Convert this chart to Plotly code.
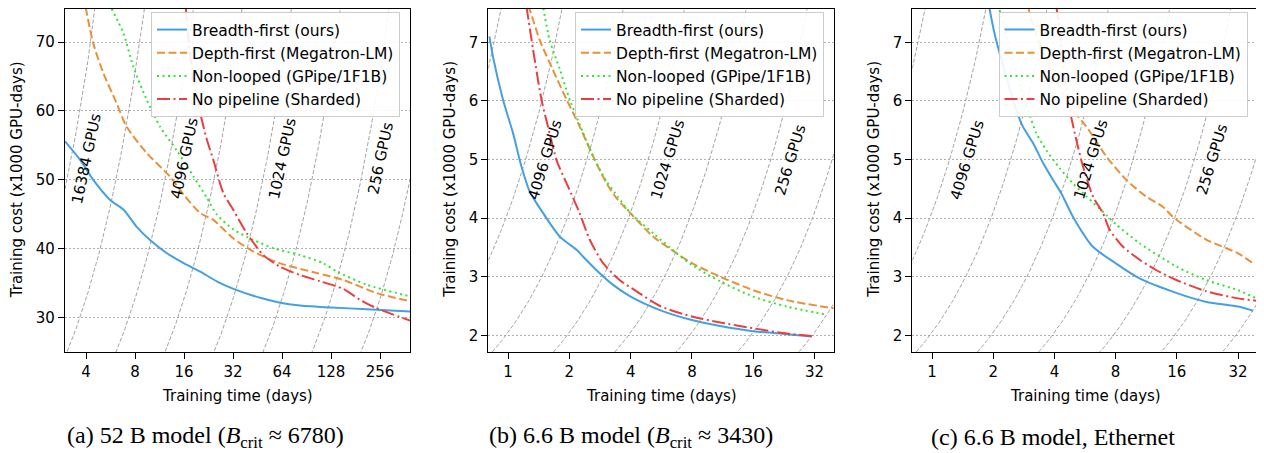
import numpy as np
import plotly.graph_objects as go

# The page adds an 8 px body margin, so the figure is drawn 8 px smaller and
# every reference pixel position is shifted by OFF.
OFF = 8
W, H = 1264 - OFF, 453 - OFF

# ---------------- data (training time in days, cost in x1000 GPU-days) ----------------
series_names = ["Breadth-first (ours)", "Depth-first (Megatron-LM)",
                "Non-looped (GPipe/1F1B)", "No pipeline (Sharded)"]

# (a) 52 B model
a_bf_t = [2.97, 3.68, 4.43, 5.62, 6.78, 8.19, 9.89, 12.5, 16, 20.1, 25.4, 32.2, 46.9, 62.2, 82.5, 128, 212, 391]
a_bf_c = [55.6, 52.9, 50.0, 47.1, 45.7, 43.2, 41.3, 39.4, 37.9, 36.7, 35.3, 34.2, 32.9, 32.2, 31.8, 31.5, 31.25, 30.9]
a_df_t = [3.98, 4.43, 5.11, 6.17, 7.11, 9.44, 13.1, 16, 20.1, 24.2, 32.2, 42.7, 62.2, 104.5, 152, 244, 391]
a_df_c = [75.0, 69.8, 65.5, 61.1, 57.7, 53.9, 50.5, 47.8, 45.2, 44.2, 41.5, 39.6, 37.9, 36.5, 35.5, 33.6, 32.4]
a_nl_t = [5.75, 6.78, 7.81, 9.44, 11.4, 14.4, 18.3, 22.1, 25.4, 32.2, 42.7, 56.6, 82.5, 115, 139, 212, 391]
a_nl_c = [74.8, 71.3, 66.4, 61.6, 57.7, 54.3, 50.5, 47.4, 45.0, 42.8, 41.3, 40.1, 39.1, 37.9, 36.7, 34.8, 33.1]
a_np_t = [16.4, 17.1, 18.3, 20.1, 22.0, 24.2, 27.9, 32.2, 38.8, 49.1, 62.2, 82.5, 109.6, 152, 193, 244, 391]
a_np_c = [75.0, 70.0, 64.5, 59.7, 56.0, 52.9, 48.1, 45.6, 42.3, 39.1, 37.4, 36.2, 35.3, 34.2, 32.6, 31.4, 29.6]

# (b) 6.6 B model
b_bf_t = [0.81, 0.844, 0.945, 1.058, 1.164, 1.279, 1.49, 1.80, 2.17, 2.34, 2.72, 3.28, 4.0, 5.57, 8.0, 11.0, 16.0, 23.4, 31.0]
b_bf_c = [7.10, 6.75, 6.02, 5.45, 4.88, 4.45, 4.08, 3.68, 3.46, 3.34, 3.11, 2.86, 2.66, 2.43, 2.26, 2.16, 2.07, 2.02, 1.98]
b_df_t = [1.25, 1.279, 1.43, 1.66, 1.94, 2.25, 2.62, 3.05, 3.41, 4.0, 5.17, 6.73, 8.0, 11.0, 16.0, 23.4, 39.7]
b_df_c = [7.62, 7.55, 7.04, 6.53, 6.02, 5.56, 5.05, 4.59, 4.34, 4.08, 3.68, 3.40, 3.23, 3.00, 2.77, 2.60, 2.46]
b_nl_t = [1.49, 1.60, 1.80, 2.01, 2.34, 2.67, 3.05, 3.47, 4.0, 5.17, 6.73, 8.0, 11.0, 16.0, 23.4, 36.8]
b_nl_c = [7.58, 7.04, 6.53, 6.02, 5.45, 4.99, 4.62, 4.36, 4.08, 3.74, 3.40, 3.20, 2.92, 2.66, 2.49, 2.35]
b_np_t = [1.232, 1.328, 1.46, 1.60, 1.73, 1.97, 2.25, 2.52, 2.93, 3.54, 4.28, 5.57, 8.0, 11.0, 16.0, 23.4, 31.0]
b_np_c = [7.61, 6.87, 6.02, 5.45, 4.99, 4.54, 4.08, 3.63, 3.23, 2.94, 2.75, 2.50, 2.32, 2.22, 2.12, 2.03, 1.99]

# (c) 6.6 B model, Ethernet
c_bf_t = [1.91, 2.03, 2.32, 2.6, 2.80, 3.14, 3.52, 3.94, 4.33, 4.94, 6.19, 8.0, 10.5, 16.0, 22.4, 32.0, 37.9]
c_bf_c = [7.61, 7.15, 6.41, 5.84, 5.56, 5.28, 4.94, 4.65, 4.42, 4.02, 3.51, 3.23, 2.97, 2.72, 2.57, 2.49, 2.42]
c_df_t = [2.97, 3.08, 3.5, 4.2, 4.94, 5.75, 7.21, 9.04, 11.3, 13.7, 15.3, 22.4, 32.0, 37.9]
c_df_c = [7.61, 7.38, 6.85, 6.25, 5.84, 5.56, 5.05, 4.65, 4.37, 4.19, 4.02, 3.63, 3.40, 3.23]
c_nl_t = [2.15, 2.4, 2.7, 2.97, 3.26, 3.65, 4.25, 4.94, 5.75, 7.21, 8.0, 10.5, 16.0, 22.4, 32.0, 39.4]
c_nl_c = [7.55, 6.9, 6.3, 5.84, 5.45, 5.16, 4.85, 4.59, 4.37, 4.05, 3.90, 3.57, 3.17, 2.94, 2.77, 2.63]
c_np_t = [4.09, 4.25, 4.4, 4.6, 4.76, 5.13, 5.53, 6.19, 6.94, 7.48, 8.7, 10.5, 12.7, 16.0, 22.4, 32.0, 39.4]
c_np_c = [7.61, 7.15, 6.65, 6.15, 5.84, 5.33, 4.88, 4.37, 4.08, 3.80, 3.51, 3.29, 3.11, 2.94, 2.75, 2.63, 2.59]

# iso-GPU reference curves and their labels
gpu_counts = [2 ** k for k in range(5, 16)]
gpu_labels_a = [16384, 4096, 1024, 256]
gpu_labels_bc = [4096, 1024, 256]

# ticks
a_xticks = [4, 8, 16, 32, 64, 128, 256]
bc_xticks = [1, 2, 4, 8, 16, 32]
a_yticks = [30, 40, 50, 60, 70]
bc_yticks = [2, 3, 4, 5, 6, 7]

captions = ["(a) 52 B model (<i>B</i><sub>crit</sub> ≈ 6780)",
            "(b) 6.6 B model (<i>B</i><sub>crit</sub> ≈ 3430)",
            "(c) 6.6 B model, Ethernet"]

# ---------------- styling ----------------
colors = ["#45a0e3", "#e8913a", "#33e633", "#e8403f"]
dashes = ["solid", "8px,3.5px", "2px,3.5px", "13px,3.5px,2px,3.5px"]


def fx(p):
    return (p - OFF) / W


def fy(p):
    return 1 - (p - OFF) / H


panels = [
    dict(series=[(a_bf_t, a_bf_c), (a_df_t, a_df_c), (a_nl_t, a_nl_c), (a_np_t, a_np_c)],
         xr=(2.97, 391), yr=(25, 74.83), xt=a_xticks, yt=a_yticks,
         dom=(65, 410), leg_right=400, labels=gpu_labels_a, lab_t=[4, 16, 64, 256], lab_y=53.1, ang=-78,
         ytitle_x=16.7, cap_x=205),
    dict(series=[(b_bf_t, b_bf_c), (b_df_t, b_df_c), (b_nl_t, b_nl_c), (b_np_t, b_np_c)],
         xr=(0.8, 40), yr=(1.71, 7.573), xt=bc_xticks, yt=bc_yticks,
         dom=(488.3, 834.3), leg_right=824, labels=gpu_labels_bc, lab_t=[1.53, 6.12, 24.5], lab_y=5.0, ang=-73,
         ytitle_x=449.3, cap_x=631),
    dict(series=[(c_bf_t, c_bf_c), (c_df_t, c_df_c), (c_nl_t, c_nl_c), (c_np_t, c_np_c)],
         xr=(0.8, 40), yr=(1.71, 7.573), xt=bc_xticks, yt=bc_yticks,
         dom=(912.3, 1257.7), leg_right=1247.5, labels=gpu_labels_bc, lab_t=[1.5, 6.08, 24.0], lab_y=5.0, ang=-73,
         ytitle_x=873.3, cap_x=1053),
]

top_px, bot_px = 8.7, 352.3
ydom = [fy(bot_px), fy(top_px)]

fig = go.Figure()
layout = dict(width=W, height=H, margin=dict(l=0, r=0, t=0, b=0),
              paper_bgcolor="white", plot_bgcolor="white",
              font=dict(family="DejaVu Sans", size=15, color="black"),
              annotations=[])

for i, p in enumerate(panels):
    k = "" if i == 0 else str(i + 1)
    xa, ya = "x" + k, "y" + k
    leg = "legend" + k
    lo, hi = p["xr"]
    # iso-GPU curves: cost = GPUs * days / 1000
    tt = np.geomspace(lo, hi, 300)
    for n in gpu_counts:
        fig.add_trace(go.Scatter(x=tt, y=n * tt / 1000.0, mode="lines",
                                 line=dict(color="#8a8a8a", width=0.8, dash="4px,2px"),
                                 showlegend=False, hoverinfo="skip", xaxis=xa, yaxis=ya))
    for j, (t, c) in enumerate(p["series"]):
        fig.add_trace(go.Scatter(x=t, y=c, mode="lines", name=series_names[j],
                                 line=dict(color=colors[j], width=2, dash=dashes[j],
                                           shape="spline", smoothing=0.7),
                                 xaxis=xa, yaxis=ya, legend=leg, showlegend=True))
    axcommon = dict(showline=True, linecolor="black", linewidth=1.2, mirror=True,
                    ticks="outside", ticklen=6, tickwidth=1, tickcolor="black",
                    zeroline=False, tickfont=dict(size=15), automargin=False)
    layout["xaxis" + k] = dict(axcommon, type="log", range=[np.log10(lo), np.log10(hi)],
                               tickvals=p["xt"], ticktext=[str(v) for v in p["xt"]],
                               showgrid=False, anchor=ya,
                               domain=[fx(p["dom"][0]), fx(p["dom"][1])])
    layout["yaxis" + k] = dict(axcommon, range=list(p["yr"]), tickvals=p["yt"],
                               showgrid=True, gridcolor="#b0b0b0", gridwidth=1, griddash="1.5px,2.5px",
                               anchor=xa, domain=ydom)
    layout[leg] = dict(x=fx(p["leg_right"]), y=fy(12), xanchor="right", yanchor="top",
                       bgcolor="rgba(255,255,255,0.9)", bordercolor="#cccccc", borderwidth=1,
                       font=dict(size=15.5, family="DejaVu Sans"), itemwidth=30, tracegroupgap=0)
    # GPU labels
    for lab, lt in zip(p["labels"], p["lab_t"]):
        layout["annotations"].append(dict(x=np.log10(lt), y=p["lab_y"], xref=xa, yref=ya,
                                          text=f"{lab} GPUs", showarrow=False, textangle=p["ang"],
                                          font=dict(size=15), xanchor="center", yanchor="middle"))
    cx = (p["dom"][0] + p["dom"][1]) / 2
    layout["annotations"].append(dict(x=fx(cx), y=fy(395.7), xref="paper", yref="paper",
                                      text="Training time (days)", showarrow=False,
                                      xanchor="center", yanchor="middle", font=dict(size=15)))
    layout["annotations"].append(dict(x=fx(p["ytitle_x"]), y=fy(179.5), xref="paper", yref="paper",
                                      text="Training cost (x1000 GPU-days)", showarrow=False, textangle=-90,
                                      xanchor="center", yanchor="middle", font=dict(size=15)))
    layout["annotations"].append(dict(x=fx(p["cap_x"]), y=fy(436.5), xref="paper", yref="paper",
                                      text=captions[i], showarrow=False,
                                      xanchor="center", yanchor="middle",
                                      font=dict(size=24, family="Liberation Serif")))

fig.update_layout(**layout)
fig.write_html("out.html")
